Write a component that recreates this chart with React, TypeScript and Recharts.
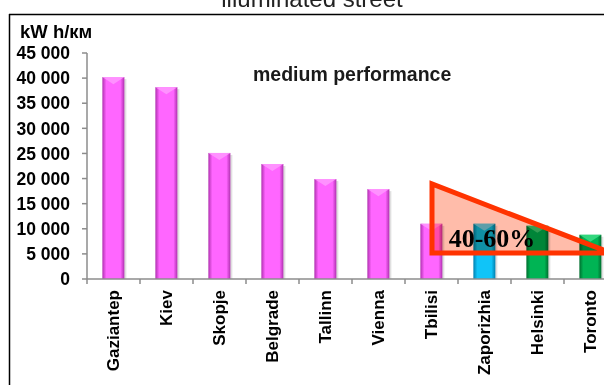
import React from "react";
import { BarChart, Bar, XAxis, YAxis } from "recharts";

const cities = [
  "Gaziantep",
  "Kiev",
  "Skopje",
  "Belgrade",
  "Tallinn",
  "Vienna",
  "Tbilisi",
  "Zaporizhia",
  "Helsinki",
  "Toronto",
];
const consumption = [40200, 38200, 25100, 22900, 19900, 17900, 11000, 11000, 10600, 8800];
const groups = ["a", "a", "a", "a", "a", "a", "a", "b", "c", "c"];
const yTicks = [0, 5000, 10000, 15000, 20000, 25000, 30000, 35000, 40000, 45000];

const data = cities.map((city, i) => ({ city, value: consumption[i], group: groups[i] }));

const palette: Record<string, { edge: string; mid: string; top: string }> = {
  a: { edge: "#b030b0", mid: "#ff66ff", top: "#ff9cff" },
  b: { edge: "#0080b0", mid: "#10c4f8", top: "#70dcff" },
  c: { edge: "#006e2e", mid: "#00b454", top: "#40e088" },
};

const FONT = "'Liberation Sans', Arial, sans-serif";

const fmt = (v: number) => (v === 0 ? "0" : `${v / 1000} 000`);

const CylinderBar = (props: any) => {
  const { x, y, width, height, payload } = props;
  if (!height || height <= 0) return null;
  const g = payload.group;
  const c = palette[g];
  const bevel = Math.min(width * 0.32, height);
  return (
    <g>
      <rect x={x + 2} y={y + 2} width={width} height={height - 2} fill="#000" opacity={0.12} />
      <rect x={x} y={y} width={width} height={height} fill={`url(#grad-${g})`} />
      <polygon
        points={`${x},${y} ${x + width},${y} ${x + width / 2},${y + bevel}`}
        fill={c.top}
        opacity={0.8}
      />
    </g>
  );
};

const CityTick = (props: any) => {
  const { x, y, payload } = props;
  const off = payload && payload.offset ? payload.offset : 26.5;
  return (
    <g>
      <line x1={x - off} x2={x - off} y1={y - 11} y2={y - 6} stroke="#8c8c8c" strokeWidth={1.5} />
      <text
        x={x}
        y={y}
        dy="0.35em"
        textAnchor="end"
        transform={`rotate(-90, ${x}, ${y})`}
        fontFamily={FONT}
        fontWeight="bold"
        fontSize={17}
        fill="#000"
      >
        {payload.value}
      </text>
    </g>
  );
};

export default function App() {
  return (
    <div
      style={{
        position: "absolute",
        left: 0,
        top: 0,
        width: 604,
        height: 385,
        overflow: "hidden",
        background: "#fff",
        fontFamily: FONT,
      }}
    >
      <div
        style={{
          position: "absolute",
          left: 0,
          top: 0,
          width: 640,
          height: 385,
        }}
      >
        <BarChart
          width={640}
          height={385}
          data={data}
          margin={{ top: 53, right: 23, bottom: 0, left: 0 }}
          barCategoryGap="29%"
        >
          <defs>
            {Object.keys(palette).map((k) => (
              <linearGradient key={k} id={`grad-${k}`} x1="0" y1="0" x2="1" y2="0">
                <stop offset="0%" stopColor={palette[k].edge} />
                <stop offset="18%" stopColor={palette[k].mid} />
                <stop offset="82%" stopColor={palette[k].mid} />
                <stop offset="100%" stopColor={palette[k].edge} />
              </linearGradient>
            ))}
          </defs>
          <XAxis
            dataKey="city"
            interval={0}
            height={106}
            tickSize={5}
            tickMargin={6}
            tickLine={false}
            tick={<CityTick />}
            axisLine={{ stroke: "#8c8c8c", strokeWidth: 1.5 }}
          />
          <YAxis
            width={87}
            domain={[0, 45000]}
            ticks={yTicks}
            interval={0}
            tickFormatter={fmt}
            tickSize={5}
            tickMargin={12}
            axisLine={{ stroke: "#8c8c8c", strokeWidth: 1.5 }}
            tickLine={{ stroke: "#8c8c8c", strokeWidth: 1.5 }}
            tick={{ fill: "#000", fontFamily: FONT, fontWeight: "bold", fontSize: 17.5 }}
          />
          <Bar dataKey="value" shape={<CylinderBar />} isAnimationActive={false} />
        </BarChart>
      </div>
      <svg
        width={604}
        height={385}
        style={{ position: "absolute", left: 0, top: 0, pointerEvents: "none" }}
      >
        <text x={312} y={7} textAnchor="middle" fontFamily={FONT} fontSize={24} fill="#222">
          illuminated street
        </text>
        <line x1={9} x2={604} y1={14.5} y2={14.5} stroke="#000" strokeWidth={1.5} />
        <line x1={9.5} x2={9.5} y1={14} y2={385} stroke="#000" strokeWidth={1.5} />
        <text x={20} y={38} fontFamily={FONT} fontWeight="bold" fontSize={18.5} fill="#000">
          kW h/км
        </text>
        <text x={253} y={81} fontFamily={FONT} fontWeight="bold" fontSize={19.5} fill="#1a1a1a">
          medium performance
        </text>
        <polygon
          points="432,184 432,253 611,253"
          fill="#ffbcaa"
          style={{ mixBlendMode: "multiply" }}
        />
        <polygon
          points="432,184 432,253 611,253"
          fill="none"
          stroke="#ff3300"
          strokeWidth={5}
          strokeLinejoin="miter"
        />
        <text
          x={492}
          y={247}
          textAnchor="middle"
          fontFamily="'Liberation Serif', 'Times New Roman', serif"
          fontWeight="bold"
          fontSize={26}
          fill="#000"
        >
          40-60%
        </text>
      </svg>
    </div>
  );
}
